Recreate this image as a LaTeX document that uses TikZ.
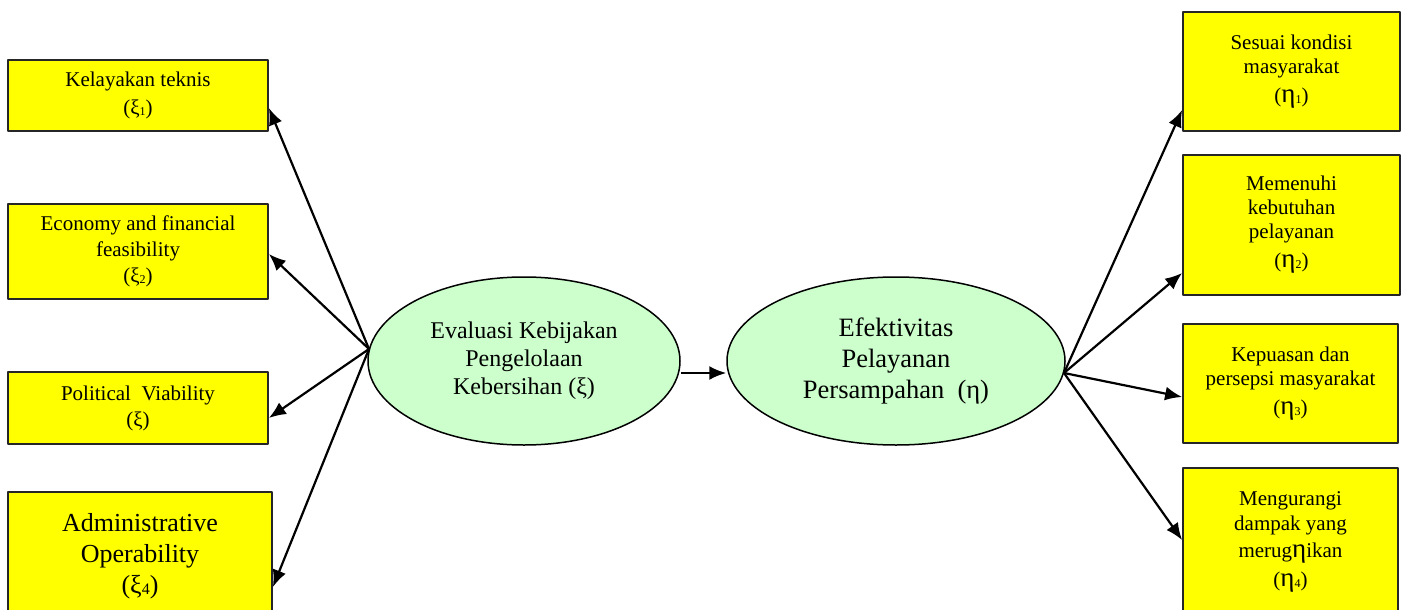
\documentclass[tikz,border=0pt]{standalone}
\usepackage{fontspec}
\setmainfont{Liberation Serif}
\usetikzlibrary{shapes.geometric,arrows.meta}
\definecolor{kuning}{RGB}{255,255,0}
\definecolor{hijau}{RGB}{204,255,204}
\newcommand{\ix}[2][12]{\raisebox{-1pt}{\fontsize{#1}{#1}\selectfont #2}}
\newcommand{\etabig}{{\fontsize{27}{27}\selectfont η}}
\begin{document}
\begin{tikzpicture}[x=1pt,y=-1pt,line join=round,
	kotak/.style={draw=black!85,line width=1.8pt,fill=kuning,align=center,inner sep=0pt,font=\fontsize{21}{26}\selectfont},
	elips/.style={ellipse,draw,line width=1.5pt,fill=hijau,align=center,inner sep=0pt},
	panah/.style={-{Latex[length=17pt,width=14pt]},line width=2.2pt}]
	\useasboundingbox (0,0) rectangle (1402,610);
	\clip (0,0) rectangle (1402,610);
	% Variabel bebas
	\node[kotak,minimum width=260,minimum height=71] (b1) at (138,95.5) {Kelayakan teknis\\[2pt](ξ\ix{1})};
	\node[kotak,minimum width=260,minimum height=95] (b2) at (138,251.5) {Economy and financial\\feasibility\\(ξ\ix{2})};
	\node[kotak,minimum width=260,minimum height=72] (b3) at (138,408) {Political~~Viability\\(ξ)};
	\node[kotak,minimum width=264,minimum height=128,font=\fontsize{26}{31}\selectfont] (b4) at (140,556) {Administrative\\Operability\\(ξ\ix[16]{4})};
	% Variabel laten
	\node[elips,minimum width=312,minimum height=168,font=\fontsize{24}{28}\selectfont] (e1) at (524,361) {Evaluasi Kebijakan\\Pengelolaan\\Kebersihan (ξ)};
	\node[elips,minimum width=338,minimum height=168,font=\fontsize{26.5}{31}\selectfont] (e2) at (896,361) {Efektivitas\\Pelayanan\\Persampahan~~(η)};
	% Indikator
	\node[kotak,minimum width=217,minimum height=119,font=\fontsize{21}{24}\selectfont] (r1) at (1291.5,71.5) {Sesuai kondisi\\masyarakat\\[5pt](\etabig\ix{1})};
	\node[kotak,minimum width=217,minimum height=140,font=\fontsize{21}{24}\selectfont] (r2) at (1291.5,225) {Memenuhi\\kebutuhan\\pelayanan\\[5pt](\etabig\ix{2})};
	\node[kotak,minimum width=215,minimum height=119,font=\fontsize{21}{24}\selectfont] (r3) at (1290.5,383.5) {Kepuasan dan\\persepsi masyarakat\\[5pt](\etabig\ix{3})};
	\node[kotak,minimum width=215,minimum height=148,font=\fontsize{21}{25}\selectfont] (r4) at (1290.5,542) {Mengurangi\\dampak yang\\[2pt]merug\etabig ikan\\[4pt](\etabig\ix{4})};
	\coordinate (kiri) at (369,349);
	\coordinate (kanan) at (1064,373);
	\draw[panah] (kiri)--([yshift=-12.5pt]b1.east);
	\draw[panah] (kiri)--([yshift=-2.5pt]b2.east);
	\draw[panah] (kiri)--([yshift=-10pt]b3.east);
	\draw[panah] (kiri)--([yshift=-31pt]b4.east);
	\draw[panah] (e1.east|-0,373)--(e2.west|-0,373);
	\draw[panah] (kanan)--([yshift=-38.5pt]r1.west);
	\draw[panah] (kanan)--([yshift=-48pt]r2.west);
	\draw[panah] (kanan)--([yshift=-13.5pt]r3.west);
	\draw[panah] (kanan)--([yshift=2pt]r4.west);
\end{tikzpicture}
\end{document}
